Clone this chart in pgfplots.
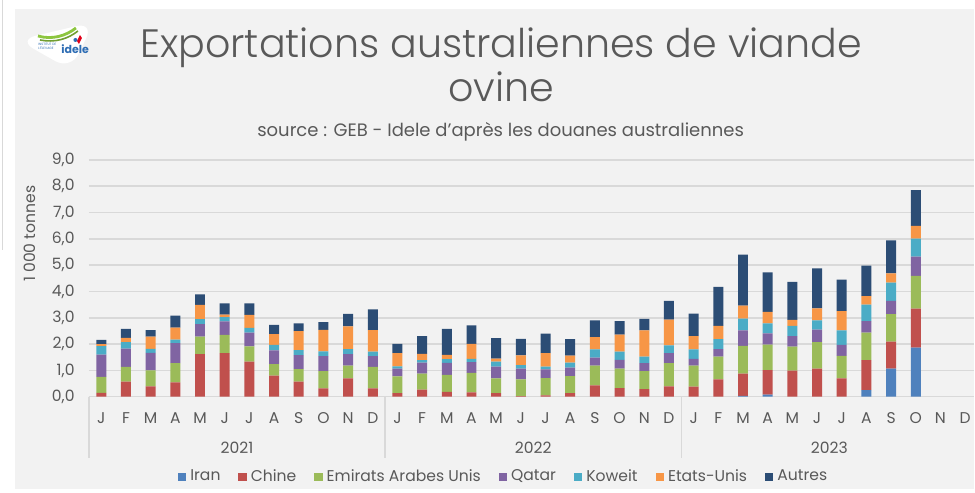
\documentclass[border=0pt]{standalone}
\usepackage{pgfplots}
\pgfplotsset{compat=1.18}
\usepackage{pgfplotstable}
\usepackage{fontspec}
\setmainfont{Poppins}
\newfontfamily\titlefont{Poppins}[UprightFont=* Light]

\definecolor{txt}{HTML}{595959}
\definecolor{panel}{HTML}{F2F2F2}
\definecolor{gridgray}{HTML}{D9D9D9}
\definecolor{cIran}{HTML}{4F81BD}
\definecolor{cChine}{HTML}{C0504D}
\definecolor{cEmir}{HTML}{9BBB59}
\definecolor{cQatar}{HTML}{8064A2}
\definecolor{cKoweit}{HTML}{4BACC6}
\definecolor{cEU}{HTML}{F79646}
\definecolor{cAutres}{HTML}{2C4D75}
\definecolor{logoblue}{HTML}{2E6DB4}
\definecolor{logogreen}{HTML}{8DC63F}
\definecolor{logored}{HTML}{E2001A}

% Monthly exports, 1 000 t, by destination (Jan 2021 -- Oct 2023)
\pgfplotstableread{
idx iran chine emir qatar koweit eu autres
0  0    0.15 0.60 0.85 0.32 0.08 0.16
1  0    0.57 0.56 0.70 0.24 0.17 0.34
2  0    0.39 0.61 0.67 0.15 0.46 0.25
3  0    0.54 0.74 0.76 0.13 0.46 0.45
4  0    1.62 0.66 0.48 0.19 0.54 0.40
5  0    1.66 0.69 0.51 0.16 0.10 0.43
6  0    1.33 0.58 0.53 0.18 0.49 0.44
7  0    0.80 0.44 0.52 0.21 0.41 0.35
8  0    0.57 0.48 0.53 0.19 0.72 0.30
9  0    0.32 0.65 0.57 0.18 0.82 0.29
10 0    0.70 0.48 0.44 0.19 0.86 0.48
11 0    0.32 0.81 0.41 0.17 0.82 0.79
12 0    0.14 0.63 0.30 0.08 0.51 0.35
13 0    0.27 0.61 0.42 0.09 0.24 0.67
14 0    0.18 0.65 0.46 0.14 0.16 0.99
15 0    0.16 0.75 0.40 0.13 0.57 0.70
16 0    0.14 0.56 0.44 0.19 0.12 0.78
17 0    0.02 0.64 0.41 0.13 0.37 0.63
18 0    0.05 0.66 0.33 0.10 0.52 0.74
19 0    0.14 0.64 0.33 0.19 0.26 0.63
20 0    0.43 0.75 0.31 0.31 0.46 0.64
21 0    0.33 0.74 0.33 0.31 0.65 0.51
22 0    0.29 0.68 0.31 0.24 1.00 0.44
23 0    0.39 0.89 0.38 0.29 0.98 0.71
24 0    0.38 0.80 0.26 0.36 0.50 0.86
25 0    0.66 0.86 0.29 0.38 0.50 1.48
26 0.03 0.85 1.05 0.59 0.45 0.49 1.94
27 0.08 0.93 0.97 0.43 0.38 0.43 1.51
28 0    0.99 0.91 0.40 0.39 0.23 1.44
29 0    1.07 1.00 0.48 0.35 0.46 1.52
30 0    0.70 0.85 0.42 0.55 0.73 1.20
31 0.25 1.14 1.05 0.43 0.63 0.32 1.16
32 1.07 1.02 1.05 0.50 0.70 0.35 1.25
33 1.87 1.48 1.24 0.73 0.69 0.48 1.36
}\datatable

\newcommand{\smallfont}{\fontsize{7.8}{9}\selectfont}

\begin{document}
\begin{tikzpicture}
% page frame, in pixel-like units
\begin{scope}[x=0.5pt,y=-0.5pt]
  \path[use as bounding box] (0,0) rectangle (975,489);
  \fill[white] (0,0) rectangle (975,489);
  \fill[panel] (15,9) rectangle (975,489);
  \draw[gridgray, line width=0.6pt] (2.5,0) -- (2.5,250);
  % logo
  \fill[white, rounded corners=9pt] (18,40) -- (94,22) -- (71,70) -- cycle;
  \draw[logogreen, line width=1.4pt] (38,36) .. controls (52,40) and (66,36) .. (76,28);
  \draw[logogreen!80!black, line width=0.8pt] (40,40) .. controls (55,43) and (68,39) .. (78,31);
  \fill[logored] (80,35) -- (82,38) -- (79,44) -- (77,41) -- cycle;
  \fill[logoblue] (75.5,40) circle (2);
  \node[anchor=base west, inner sep=0, text=logoblue, font=\fontsize{5.5}{6}\selectfont\bfseries] at (61,54) {idele};
  \node[anchor=base west, inner sep=0, text=logoblue, font=\fontsize{1.6}{2}\selectfont, align=left] at (38,50) {INSTITUT DE\\L'ÉLEVAGE};
  % titles
  \node[anchor=base, inner sep=0, text=txt, font=\titlefont\fontsize{19.8}{24}\selectfont] at (501.5,58) {Exportations australiennes de viande};
  \node[anchor=base, inner sep=0, text=txt, font=\titlefont\fontsize{19.8}{24}\selectfont] at (501.5,102) {ovine};
  \node[anchor=base, inner sep=0, text=txt, font=\fontsize{9}{11}\selectfont] at (501,137) {source : GEB - Idele d'après les douanes australiennes};
  \node[rotate=90, inner sep=0, text=txt, font=\smallfont] at (30,234) {1 000 tonnes};
\end{scope}

\begin{axis}[
  at={(44.5pt,-198.5pt)}, anchor=south west,
  scale only axis, width=443pt, height=118.5pt,
  ybar stacked, bar width=5pt,
  xmin=-0.5, xmax=35.37, ymin=0, ymax=9,
  axis x line*=bottom, axis y line*=left,
  x axis line style={draw=gridgray, line width=0.75pt},
  y axis line style={draw=none},
  ytick={0,1,...,9},
  ymajorgrids, grid style={gridgray, line width=0.75pt},
  major tick length=0pt,
  yticklabel style={anchor=east, inner sep=0pt, xshift=-7pt, font=\smallfont, text=txt,
    /pgf/number format/.cd, fixed, fixed zerofill, precision=1, use comma, assume math mode=true},
  xtick={0,1,...,35},
  xticklabels={J,F,M,A,M,J,J,A,S,O,N,D,J,F,M,A,M,J,J,A,S,O,N,D,J,F,M,A,M,J,J,A,S,O,N,D},
  xticklabel style={anchor=base, inner sep=0pt, yshift=-13.5pt, font=\smallfont, text=txt},
  clip=false,
  legend image code/.code={\fill[#1,draw=none] (0pt,-2.2pt) rectangle (4.2pt,2pt);},
  legend style={at={(0.4695,-0.3376)}, anchor=center, draw=none, fill=none,
    legend columns=-1, font=\smallfont, text=txt,
    /tikz/every even column/.append style={column sep=7pt}},
  every axis plot/.append style={draw=none},
]
\addplot[fill=cIran] table[x=idx, y=iran] {\datatable};
\addplot[fill=cChine] table[x=idx, y=chine] {\datatable};
\addplot[fill=cEmir] table[x=idx, y=emir] {\datatable};
\addplot[fill=cQatar] table[x=idx, y=qatar] {\datatable};
\addplot[fill=cKoweit] table[x=idx, y=koweit] {\datatable};
\addplot[fill=cEU] table[x=idx, y=eu] {\datatable};
\addplot[fill=cAutres] table[x=idx, y=autres] {\datatable};
\legend{Iran, Chine, Emirats Arabes Unis, Qatar, Koweit, Etats-Unis, Autres}
% year groups of the category axis
\draw[gridgray, line width=0.75pt] (axis cs:-0.5,0) -- ++(0pt,-30.5pt);
\draw[gridgray, line width=0.75pt] (axis cs:11.5,0) -- ++(0pt,-30.5pt);
\draw[gridgray, line width=0.75pt] (axis cs:23.5,0) -- ++(0pt,-30.5pt);
\node[anchor=base, inner sep=0pt, text=txt, font=\smallfont, yshift=-28.5pt] at (axis cs:5.5,0) {2021};
\node[anchor=base, inner sep=0pt, text=txt, font=\smallfont, yshift=-28.5pt] at (axis cs:17.5,0) {2022};
\node[anchor=base, inner sep=0pt, text=txt, font=\smallfont, yshift=-28.5pt] at (axis cs:29.5,0) {2023};
\end{axis}
\end{tikzpicture}
\end{document}
